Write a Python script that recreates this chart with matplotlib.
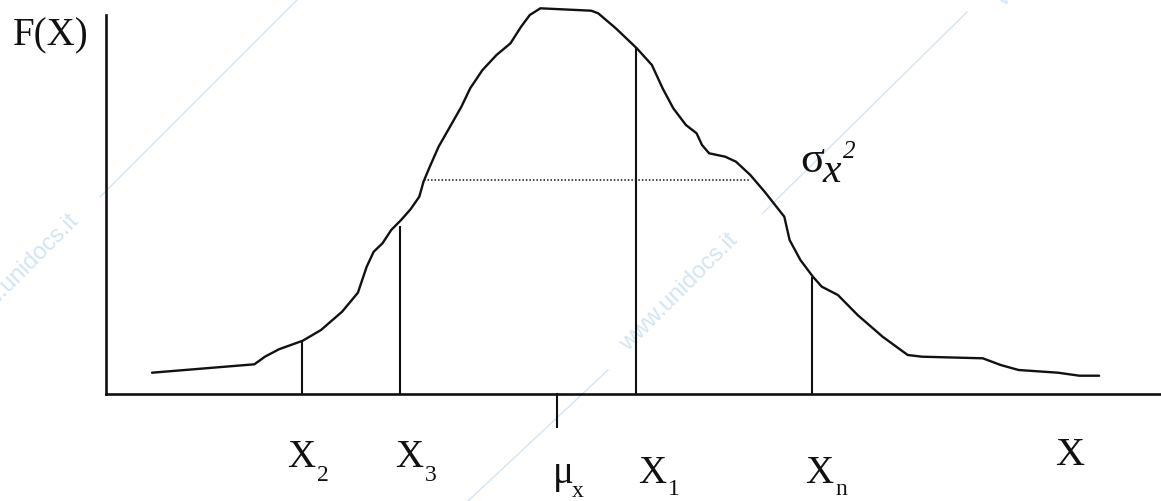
import matplotlib
matplotlib.use("Agg")
import matplotlib.pyplot as plt

# ---------------------------------------------------------------------------
# Data (x = distance from the F(X) axis, y = height
# above the X axis, both in the picture's own units)
# ---------------------------------------------------------------------------
curve_x = [46, 148.4, 158.9, 172.9, 196.8, 215, 236.1, 251.9, 260.7, 267.7,
           276.5, 285.2, 295.1, 304.5, 313.3, 317.5, 323.8, 332.6, 343.1,
           355.4, 364.2, 376.5, 390.5, 404.5, 415.1, 423.8, 434.4, 485.2,
           492.2, 509.8, 530.8, 545.9, 556.6, 567.3, 579.9, 590.6, 596,
           603.1, 619.2, 630, 644.3, 658.6, 678.3, 683.6, 694.4, 706.9,
           715.8, 731.9, 751.6, 776.6, 801.7, 816, 876.8, 894.7, 912.6, 952,
           973.4, 993.1]
curve_y = [21.3, 29.7, 37.3, 44.7, 53.3, 64, 82.3, 101.3, 127.3, 142.3,
           150.7, 164, 174, 184.7, 197.3, 212.3, 227.3, 247.3, 265.7,
           287.3, 305.7, 324, 339, 350.7, 367.3, 379, 385.7, 383.3,
           380.7, 365.7, 345.7, 329, 305.7, 285.7, 269, 260.7, 249,
           240.7, 237.3, 232.3, 219, 202.3, 177.3, 154, 134, 117.3,
           107.3, 99, 79, 57.3, 39, 37.3, 35.7, 29, 24, 21.3,
           18.3, 18.3]

# sample points X2, X3, X1, Xn and the height of their ordinates
sample_x = [196, 294, 530, 706]
sample_h = [53, 168, 346, 117]

mean_x = 451                    # mu_x tick
var_level = 214                 # sigma_x^2 dotted level
var_span = [317.5, 644.3]

# labels under the axis: (main text, subscript)
x_labels = [("X", "2"), ("X", "3"), ("\u03bc", "x"), ("X", "1"), ("X", "n")]

# ---------------------------------------------------------------------------
# Figure
# ---------------------------------------------------------------------------
W, H = 1161, 501
fig = plt.figure(figsize=(W / 100, H / 100), dpi=100)
serif = ["Liberation Serif", "DejaVu Serif"]
ink = "#111111"

# watermark layer in picture pixels
wm = fig.add_axes([0, 0, 1, 1], zorder=0)
wm.set_xlim(0, W)
wm.set_ylim(H, 0)
wm.axis("off")
wm_col = "#d3e5f5"
for seg in [((100, 197), (297, 0)), ((468, 501), (608, 370)), ((763, 213), (967, 12))]:
    (x0, y0), (x1, y1) = seg
    wm.plot([x0, x1], [y0, y1], color=wm_col, lw=1.0)
wm.text(80, 222, "www.unidocs.it", rotation=45, rotation_mode="anchor",
        ha="right", va="baseline", color=wm_col, fontsize=17, family="Liberation Sans")
wm.text(628, 352, "www.unidocs.it", rotation=45, rotation_mode="anchor",
        ha="left", va="baseline", color=wm_col, fontsize=17, family="Liberation Sans")
wm.text(1004, 7, "www.unidocs.it", rotation=45, rotation_mode="anchor",
        ha="left", va="baseline", color=wm_col, fontsize=17, family="Liberation Sans")

# main axes: left spine = F(X) axis, bottom spine = X axis
ax = fig.add_axes([106 / W, (H - 394) / H, (W - 106) / W, 394 / H], zorder=1)
ax.patch.set_alpha(0)
ax.set_xlim(0, W - 106)
ax.set_ylim(0, 394)
for side in ["top", "right"]:
    ax.spines[side].set_visible(False)
ax.spines["left"].set_bounds(0, 379)
for side in ["left", "bottom"]:
    ax.spines[side].set_linewidth(1.9)
    ax.spines[side].set_color(ink)
ax.set_xticks([])
ax.set_yticks([])

ax.plot(curve_x, curve_y, color=ink, lw=1.7, clip_on=False,
        solid_joinstyle="round", solid_capstyle="round")
ax.vlines(sample_x, 0, sample_h, color=ink, lw=1.5)
ax.plot([mean_x, mean_x], [0, -33], color=ink, lw=1.5, clip_on=False)
ax.plot(var_span, [var_level, var_level], color=ink, lw=1.1,
        linestyle=(0, (1, 1.3)))

# F(X) axis title
ax.text(-93, 349, "F(X)", family=serif, fontsize=28, ha="left", va="baseline",
        color=ink, clip_on=False)

# labels under the axis: positions of main glyph and subscript
main_pos = [(181, -73), (289, -73), (447, -89), (532, -89), (699, -89)]
sub_pos = [(211, -87), (319, -87), (466, -103), (562, -101), (729, -101)]
for (main, sub), (mx, my), (sx, sy) in zip(x_labels, main_pos, sub_pos):
    ax.text(mx, my, main, family=serif, fontsize=28, ha="left", va="baseline",
            color=ink, clip_on=False)
    ax.text(sx, sy, sub, family=serif, fontsize=17, ha="left", va="baseline",
            color=ink, clip_on=False)

ax.text(949, -71, "X", family=serif, fontsize=29, ha="left", va="baseline",
        color=ink, clip_on=False)

# sigma_x^2
ax.text(694, 222, "\u03c3", family=serif, fontsize=32, ha="left", va="baseline",
        color=ink, clip_on=False)
ax.text(717, 212, "x", family=serif, style="italic", fontsize=30, ha="left",
        va="baseline", color=ink, clip_on=False)
ax.text(737, 236, "2", family=serif, style="italic", fontsize=18, ha="left",
        va="baseline", color=ink, clip_on=False)

fig.savefig("out.png", dpi=100)
